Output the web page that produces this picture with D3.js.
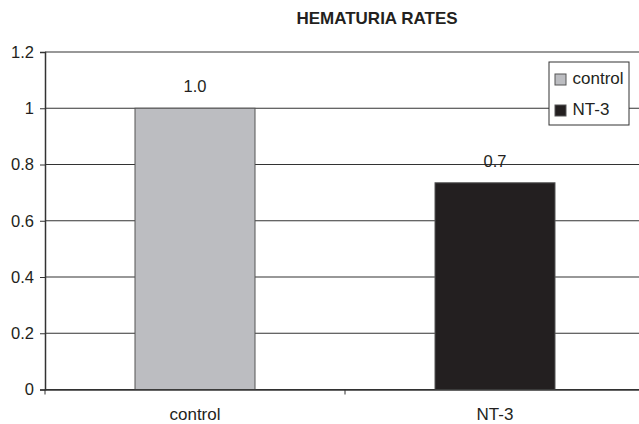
<!DOCTYPE html>
<html><head><meta charset="utf-8">
<script src="https://cdn.jsdelivr.net/npm/d3@7"></script>
<style>body{margin:0;background:#fff}svg{display:block}text{font-family:"Liberation Sans",Arial,sans-serif;fill:#231f20}</style>
</head><body>
<script>
const categories = ["control", "NT-3"];
const values = [1.0, 0.735];
const valueLabels = ["1.0", "0.7"];
const colors = ["#bcbdc1", "#231f20"];
const yTicks = [0, 0.2, 0.4, 0.6, 0.8, 1, 1.2];
const title = "HEMATURIA RATES";

const W = 639, H = 424;
const FONT = '"Liberation Sans",Arial,sans-serif';
const svg = d3.select("body").append("svg").attr("width", W).attr("height", H);
const x = d3.scaleBand().domain(categories).range([45, 645]).padding(0);
const barW = x.bandwidth() * 0.4;
const barX = d => x(d) + (x.bandwidth() - barW) / 2;
const y = d3.scaleLinear().domain([0, 1.2]).range([389.5, 52]);

// gridlines
svg.append("g").selectAll("line").data(yTicks).join("line")
  .attr("x1", 45).attr("x2", 645).attr("y1", d => y(d)).attr("y2", d => y(d))
  .attr("stroke", "#333").attr("stroke-width", 1.2);

// bars
svg.append("g").selectAll("rect").data(categories).join("rect")
  .attr("x", d => barX(d)).attr("width", barW)
  .attr("y", (d, i) => y(values[i])).attr("height", (d, i) => y(0) - y(values[i]))
  .attr("fill", (d, i) => colors[i]).attr("stroke", "#555").attr("stroke-width", 1);

// value labels
svg.append("g").selectAll("text").data(categories).join("text")
  .attr("x", d => x(d) + x.bandwidth() / 2).attr("y", (d, i) => y(values[i]) - 16)
  .attr("text-anchor", "middle").attr("font-size", 16.5).text((d, i) => valueLabels[i]);

// y axis
const yAxis = d3.axisLeft(y).tickValues(yTicks).tickSize(5).tickPadding(6).tickFormat(d => String(d));
const gy = svg.append("g").attr("transform", "translate(45,0)").call(yAxis);
gy.selectAll("text").attr("font-size", 16.5).style("font-family", FONT).attr("fill", "#231f20");
gy.selectAll("line").attr("stroke", "#333");
gy.select(".domain").attr("stroke", "#333").attr("stroke-width", 1.5);

// x axis
const xAxis = d3.axisBottom(x).tickSize(0).tickPadding(18);
const gx = svg.append("g").attr("transform", `translate(0,${y(0)})`).call(xAxis);
gx.selectAll("text").attr("font-size", 17).style("font-family", FONT).attr("fill", "#231f20");
gx.select(".domain").attr("stroke", "#333").attr("stroke-width", 1.5);
// category boundary ticks
svg.append("g").selectAll("line").data([45, x("NT-3")]).join("line")
  .attr("x1", d => d).attr("x2", d => d)
  .attr("y1", y(0)).attr("y2", y(0) + 5).attr("stroke", "#333");

// title
svg.append("text").attr("x", 377).attr("y", 24).attr("text-anchor", "middle")
  .attr("font-size", 17).attr("font-weight", "bold").text(title);

// legend
const lg = svg.append("g").attr("transform", "translate(549,62)");
lg.append("rect").attr("width", 80).attr("height", 63).attr("fill", "#fff").attr("stroke", "#333").attr("stroke-width", 1);
categories.forEach((c, i) => {
  lg.append("rect").attr("x", 6).attr("y", 12 + i * 31).attr("width", 11).attr("height", 11)
    .attr("fill", colors[i]).attr("stroke", "#555");
  lg.append("text").attr("x", 23.5).attr("y", 21.5 + i * 31).attr("font-size", 17).text(c);
});
</script>
</body></html>
